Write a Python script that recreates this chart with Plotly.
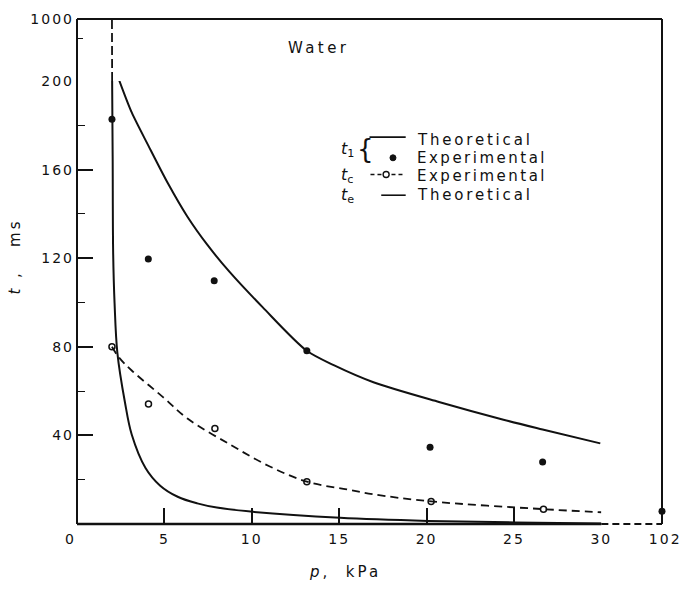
import plotly.graph_objects as go

# ---------------- data ----------------
# t1 theoretical curve
p_t1_theo = [2.41, 3.13, 4.09, 5.20, 6.32, 7.44, 8.73, 10.63, 13.15, 14.72, 16.96, 20.71, 24.40, 26.64, 29.94]
t1_theo = [200.4, 185.8, 170.7, 153.8, 138.7, 126.2, 113.8, 97.8, 78.2, 71.6, 64.0, 55.1, 47.1, 42.7, 36.4]

# t1 experimental points
p_t1_exp = [2.0, 4.08, 7.85, 13.15, 20.2, 26.64]
t1_exp = [182.7, 119.6, 109.8, 78.2, 34.7, 28.0]
p_t1_exp_atm = [102]
t1_exp_atm = [5.8]

# tc experimental points and the dashed curve through them
p_tc_exp = [2.0, 4.09, 7.89, 13.15, 20.26, 26.69]
tc_exp = [80.0, 54.2, 43.1, 19.1, 10.2, 6.7]
p_tc_line = [2.0, 2.41, 3.13, 4.92, 6.32, 8.73, 10.97, 13.15, 15.44, 16.96, 20.26, 26.69, 30.0]
tc_line = [80.0, 75.1, 69.3, 57.3, 47.6, 36.0, 26.2, 19.1, 15.6, 13.4, 10.2, 6.7, 5.3]

# te theoretical curve (solid part up to 200 ms, dashed above)
p_te = [2.01, 2.04, 2.07, 2.15, 2.31, 2.74, 3.13, 3.92, 4.76, 5.76, 6.88, 8.0, 10.07, 15.05, 20.09, 25.07, 30.0]
te = [200.0, 166.2, 121.8, 99.6, 77.3, 55.1, 40.4, 25.3, 17.3, 12.3, 9.3, 7.4, 5.5, 2.8, 1.4, 0.7, 0.2]
p_te_high = [2.01, 2.0]
te_high = [200, 1000]

# tick values / labels
x_ticks = [0, 5, 10, 15, 20, 25, 30]
x_labels = ["0&nbsp;&nbsp;", "5", "10", "15", "20", "25", "30"]
x_ticks_atm = [102]
x_labels_atm = ["&nbsp;102"]
y_ticks = [40, 80, 120, 160, 200]
y_minor = [20, 60, 100, 140, 180]
y_ticks_high = [1000]
y_minor_high = [750]

# ---------------- layout geometry ----------------
W, H = 693, 590
L, R, T, B = 77, 675, 11, 524
pw, ph = R - L, B - T
def px(x):
    return (x - L) / pw
def py(y):
    return (B - y) / ph

x_split = px(613)
y_split = py(74)

FONT = "DejaVu Sans"
BLACK = "#111111"
def sp(s, ls=2.5):
    return f'<span style="letter-spacing:{ls}px">{s}</span>'

fig = go.Figure()

line_w = 2.0
fig.add_trace(go.Scatter(x=p_t1_theo, y=t1_theo, mode="lines", xaxis="x", yaxis="y",
                         line=dict(color=BLACK, width=line_w, shape="spline", smoothing=0.8),
                         showlegend=False))
fig.add_trace(go.Scatter(x=p_te, y=te, mode="lines", xaxis="x", yaxis="y",
                         line=dict(color=BLACK, width=line_w, shape="spline", smoothing=1.0),
                         showlegend=False, cliponaxis=False))
fig.add_trace(go.Scatter(x=p_te_high, y=te_high, mode="lines", xaxis="x", yaxis="y2",
                         line=dict(color=BLACK, width=1.8, dash="9px,4px"),
                         showlegend=False))
fig.add_trace(go.Scatter(x=p_tc_line, y=tc_line, mode="lines", xaxis="x", yaxis="y",
                         line=dict(color=BLACK, width=1.8, dash="8px,5px", shape="spline", smoothing=1.0),
                         showlegend=False))
fig.add_trace(go.Scatter(x=p_tc_exp, y=tc_exp, mode="markers", xaxis="x", yaxis="y",
                         marker=dict(symbol="circle-open", size=6, color=BLACK, line=dict(width=1.5)),
                         showlegend=False, cliponaxis=False))
fig.add_trace(go.Scatter(x=p_t1_exp, y=t1_exp, mode="markers", xaxis="x", yaxis="y",
                         marker=dict(symbol="circle", size=7, color=BLACK),
                         showlegend=False, cliponaxis=False))
fig.add_trace(go.Scatter(x=p_t1_exp_atm, y=t1_exp_atm, mode="markers", xaxis="x2", yaxis="y",
                         marker=dict(symbol="circle", size=7, color=BLACK),
                         showlegend=False, cliponaxis=False))

tickfont = dict(family=FONT, size=14, color=BLACK)

shapes = []
# frame
fw = 2
shapes.append(dict(type="line", xref="paper", yref="paper", x0=0, x1=0, y0=0, y1=1, line=dict(color=BLACK, width=fw)))
shapes.append(dict(type="line", xref="paper", yref="paper", x0=0, x1=1, y0=1, y1=1, line=dict(color=BLACK, width=fw)))
shapes.append(dict(type="line", xref="paper", yref="paper", x0=1, x1=1, y0=0, y1=1, line=dict(color=BLACK, width=fw)))
shapes.append(dict(type="line", xref="paper", yref="paper", x0=0, x1=x_split, y0=0, y1=0, line=dict(color=BLACK, width=fw + 0.5)))
shapes.append(dict(type="line", xref="paper", yref="paper", x0=x_split, x1=1, y0=0, y1=0, line=dict(color=BLACK, width=fw, dash="7px,4px")))

# legend symbols
shapes.append(dict(type="line", xref="paper", yref="paper", x0=px(376), x1=px(413), y0=py(131), y1=py(131), line=dict(color=BLACK, width=1.6)))
shapes.append(dict(type="circle", xref="paper", yref="paper", xsizemode="pixel", ysizemode="pixel",
                   xanchor=px(400), yanchor=py(152), x0=-3, x1=3, y0=-3, y1=3,
                   fillcolor=BLACK, line=dict(color=BLACK, width=1)))
shapes.append(dict(type="line", xref="paper", yref="paper", x0=px(377), x1=px(410), y0=py(169), y1=py(169), line=dict(color=BLACK, width=1.4, dash="4px,3px")))
shapes.append(dict(type="circle", xref="paper", yref="paper", xsizemode="pixel", ysizemode="pixel",
                   xanchor=px(393), yanchor=py(169), x0=-3, x1=3, y0=-3, y1=3,
                   fillcolor="white", line=dict(color=BLACK, width=1.4)))
shapes.append(dict(type="line", xref="paper", yref="paper", x0=px(388), x1=px(413), y0=py(190), y1=py(190), line=dict(color=BLACK, width=1.6)))

annotations = []
def ann(text, x, y, size=15, xanchor="left", angle=0):
    annotations.append(dict(text=text, x=px(x), y=py(y), xref="paper", yref="paper",
                            xanchor=xanchor, yanchor="middle", showarrow=False, textangle=angle,
                            font=dict(family=FONT, size=size, color=BLACK)))

ann(sp("Theoretical", 2.8), 423, 134)
ann(sp("Experimental", 2.5), 423, 152)
ann(sp("Experimental", 2.5), 423, 170)
ann(sp("Theoretical", 2.8), 423, 190)
ann("<i>t</i><sub>1</sub>", 345, 144, size=16)
ann("{", 361, 143, size=26)
ann("<i>t</i><sub>c</sub>", 345, 170, size=16)
ann("<i>t</i><sub>e</sub>", 345, 190, size=16)
ann(sp("Water", 3.4), 324, 40, size=15, xanchor="center")
ann(sp("<i>p</i>,  kPa", 3), 351, 573, size=15, xanchor="center")
ann(sp("<i>t</i> ,   ms", 3), 14, 252, size=15, xanchor="center", angle=-90)

fig.update_layout(
    width=W, height=H,
    margin=dict(l=L, r=W - R, t=T, b=H - B),
    paper_bgcolor="white", plot_bgcolor="white",
    showlegend=False,
    shapes=shapes, annotations=annotations,
    xaxis=dict(domain=[0, x_split], range=[0, 30], anchor="y",
               tickvals=x_ticks, ticktext=[sp(t, 2) for t in x_labels],
               ticks="inside", ticklen=16, tickwidth=1.6, tickcolor=BLACK, ticklabelstandoff=5,
               ticklabeloverflow="allow",
               showgrid=False, zeroline=False, showline=False, tickfont=tickfont),
    xaxis2=dict(domain=[x_split, 1], range=[30, 102], anchor="y",
                tickvals=x_ticks_atm, ticktext=[sp(t, 2) for t in x_labels_atm],
                ticks="", ticklabelstandoff=5, ticklabeloverflow="allow",
                showgrid=False, zeroline=False, showline=False, tickfont=tickfont),
    yaxis=dict(domain=[0, y_split], range=[0, 200], anchor="x",
               tickvals=y_ticks, ticktext=[sp(str(v), 2) for v in y_ticks],
               ticks="inside", ticklen=16, tickwidth=1.6, tickcolor=BLACK, ticklabelstandoff=2,
               minor=dict(tickvals=y_minor, ticks="inside", ticklen=8, tickwidth=1.4, tickcolor=BLACK),
               showgrid=False, zeroline=False, showline=False, tickfont=tickfont),
    yaxis2=dict(domain=[y_split, 1], range=[200, 1000], anchor="x",
                tickvals=y_ticks_high, ticktext=[sp(str(v), 2) for v in y_ticks_high],
                ticks="inside", ticklen=16, tickwidth=1.6, tickcolor=BLACK, ticklabelstandoff=2,
                minor=dict(tickvals=y_minor_high, ticks="inside", ticklen=6, tickwidth=1.4, tickcolor=BLACK),
                showgrid=False, zeroline=False, showline=False, tickfont=tickfont),
)

fig.write_html("out.html")
